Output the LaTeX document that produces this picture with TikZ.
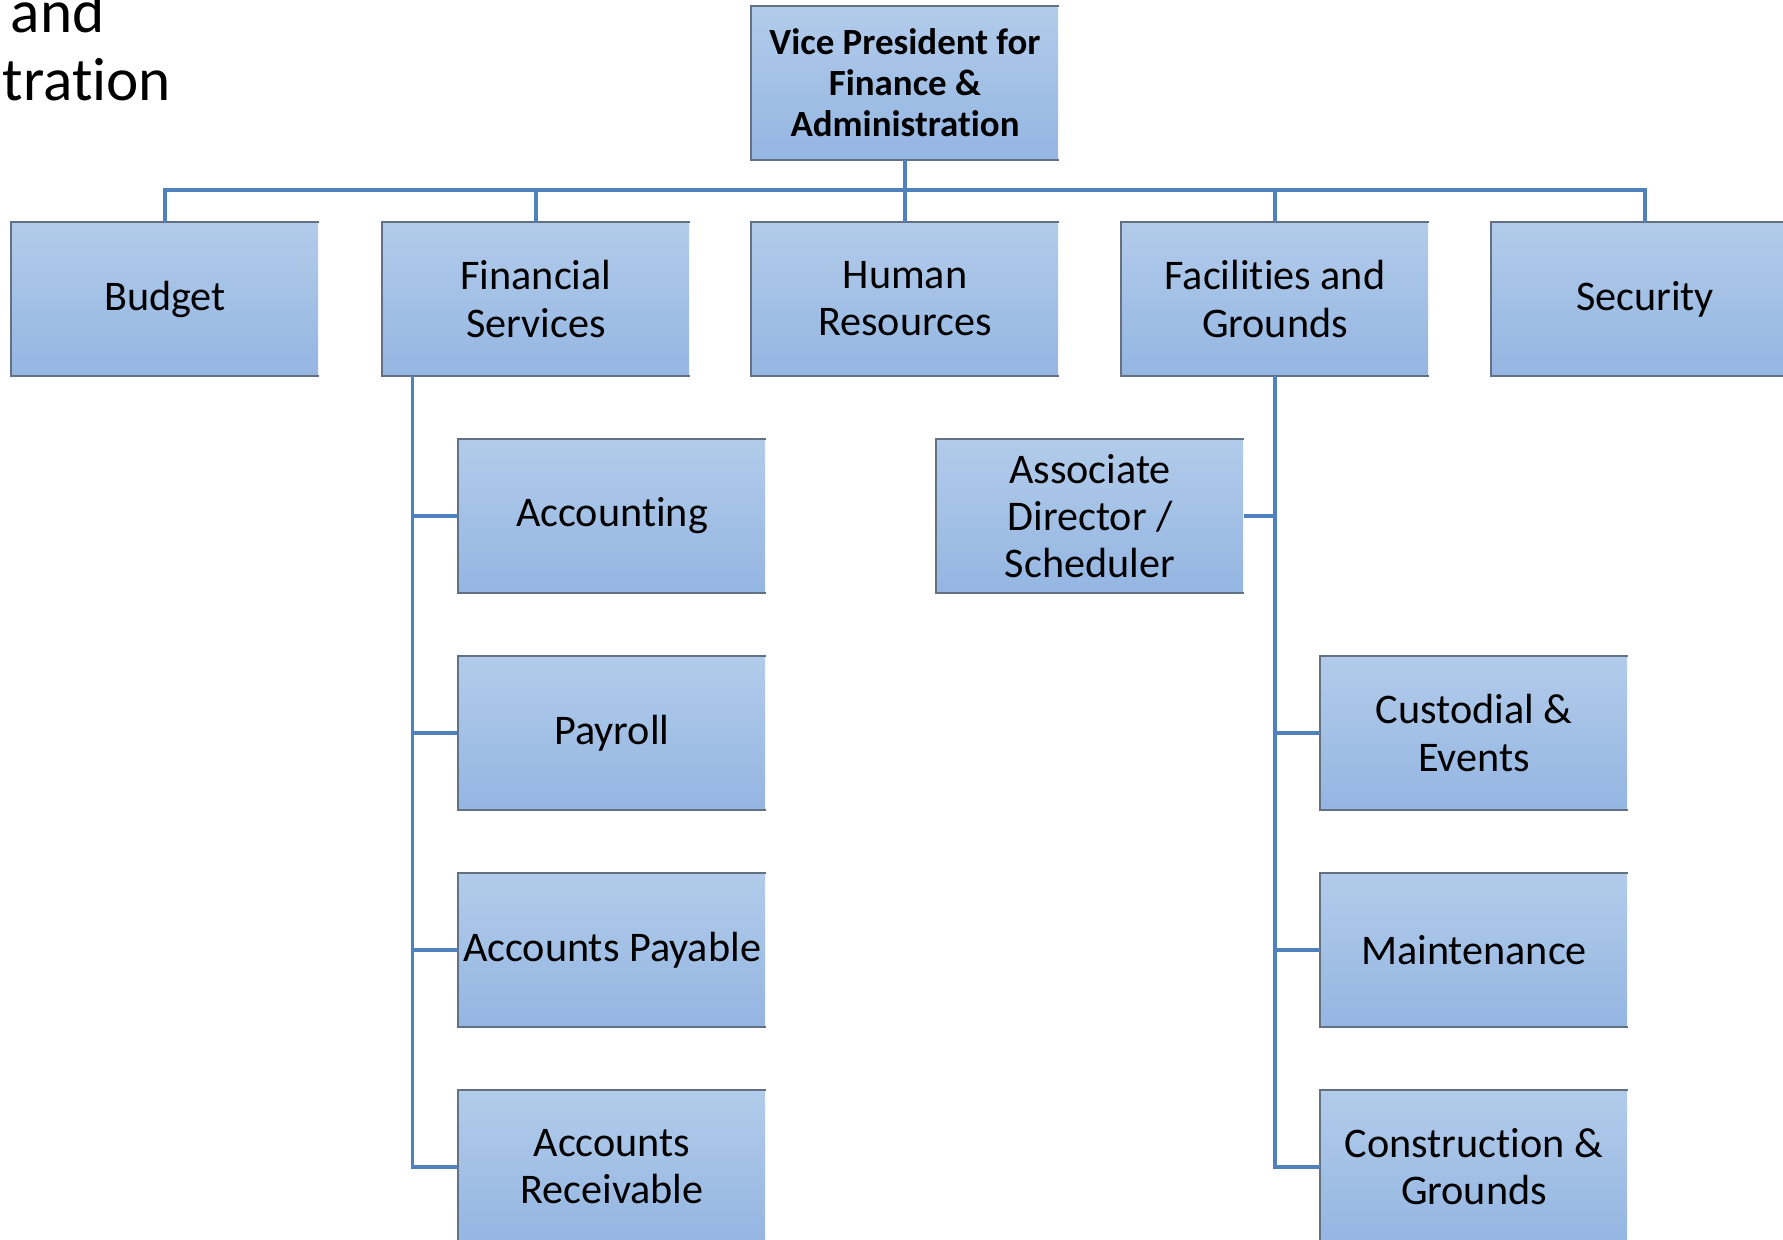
\documentclass[tikz,border=0pt]{standalone}
\usepackage{fontspec}
\setmainfont[RawFeature={-liga;-clig;-calt;-dlig}]{Carlito}
\definecolor{boxtop}{RGB}{178,203,234}
\definecolor{boxbot}{RGB}{148,182,226}
\definecolor{boxedge}{RGB}{100,113,130}
\definecolor{linkblue}{RGB}{79,129,189}
\tikzset{
	unit/.style={shade, top color=boxtop, bottom color=boxbot, minimum width=3.06cm,
		minimum height=1.52cm, inner sep=0pt, align=center,
		font=\fontsize{12}{13.4}\selectfont},
	head/.style={unit, font=\bfseries\fontsize{10.5}{11.7}\selectfont},
	link/.style={draw=linkblue, line width=0.9pt},
	rim/.style={draw=boxedge, line width=0.6pt},
	heading/.style={anchor=base west, inner sep=0pt, font=\fontsize{17.4}{19.3}\selectfont}
}
\begin{document}
\begin{tikzpicture}[x=0.01cm, y=-0.01cm]
	\useasboundingbox (0,0) rectangle (1783,1239);
	% slide title, cut off at the left
	\node[heading] (title1) at (10,32) {and};
	\node[heading] (title2) at (2,100) {tration};

	\node[head] (vp) at (905,83) {Vice President for\\Finance \&\\Administration};
	\node[unit] (budget) at (165,299) {Budget};
	\node[unit] (fs) at (536,299) {Financial\\Services};
	\node[unit] (hr) at (905,299) {Human\\Resources};
	\node[unit] (fac) at (1275,299) {Facilities and\\Grounds};
	\node[unit] (sec) at (1645,299) {Security};

	\node[unit] (acc) at (612,516) {Accounting};
	\node[unit] (pay) at (612,733) {Payroll};
	\node[unit] (ap) at (612,950) {Accounts Payable};
	\node[unit] (ar) at (612,1167) {Accounts\\Receivable};

	\node[unit] (assoc) at (1090,516) {Associate\\Director /\\Scheduler};
	\node[unit] (cust) at (1474,733) {Custodial \&\\Events};
	\node[unit] (maint) at (1474,950) {Maintenance};
	\node[unit] (cons) at (1474,1167) {Construction \&\\Grounds};

	% box edges: top, left and bottom only
	\foreach \n in {vp,budget,fs,hr,fac,sec,acc,pay,ap,ar,assoc,cust,maint,cons}
		\draw[rim] (\n.north east) -- (\n.north west) -- (\n.south west) -- (\n.south east);

	\coordinate (bus) at (905,190);
	\draw[link] (vp.south) -- (bus);
	\foreach \n in {budget,fs,hr,fac,sec}
		\draw[link] (bus) -| (\n.north);
	\foreach \n in {acc,pay,ap,ar}
		\draw[link] ([xshift=0.3cm]fs.south west) |- (\n.west);
	\draw[link] (fac.south) |- (assoc.east);
	\foreach \n in {cust,maint,cons}
		\draw[link] (fac.south) |- (\n.west);
\end{tikzpicture}
\end{document}
